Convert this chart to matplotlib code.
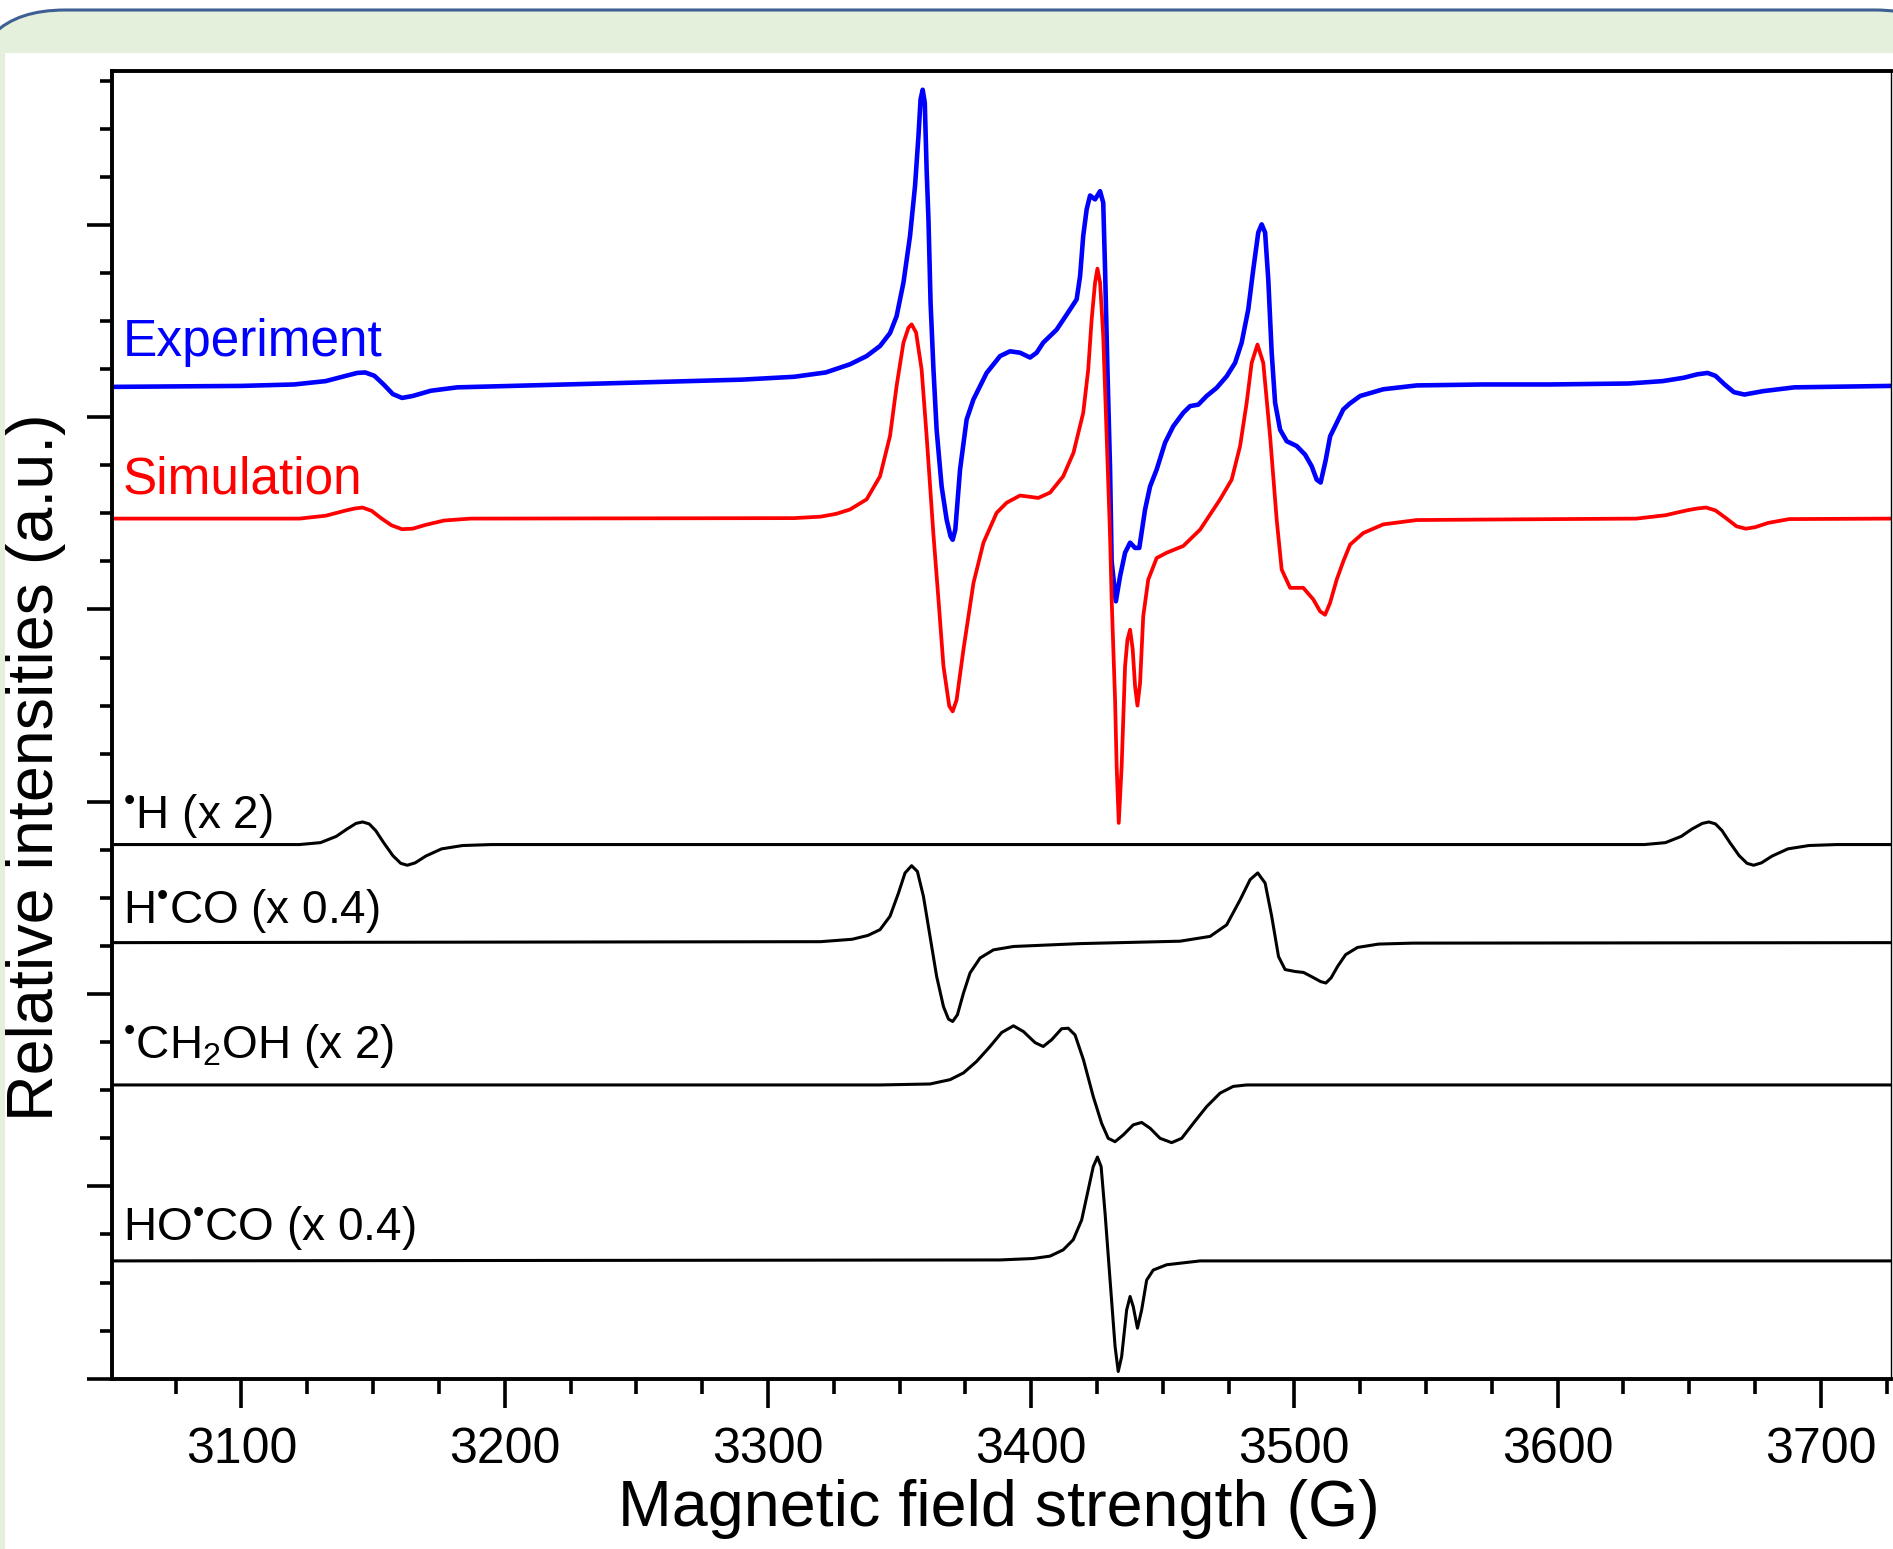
import matplotlib
matplotlib.use("Agg")
import matplotlib.pyplot as plt
from matplotlib.patches import FancyBboxPatch, Rectangle
from matplotlib.ticker import MultipleLocator

plt.rcParams['font.family'] = ['Liberation Sans', 'DejaVu Sans']
plt.rcParams['mathtext.fontset'] = 'custom'
plt.rcParams['mathtext.rm'] = 'Liberation Sans'
plt.rcParams['mathtext.it'] = 'Liberation Sans'

# magnetic field (G) / relative intensity
exp_field = [3051.8, 3100, 3120, 3132, 3139, 3144, 3147, 3150.5, 3154, 3157.5,
             3161, 3165, 3172, 3182, 3237, 3290, 3310, 3322, 3331.2, 3337.5,
             3342.6, 3346.4, 3348.9, 3351.5, 3354.0, 3355.9, 3357.2, 3358.0, 3358.8, 3359.6,
             3360.3, 3361.0, 3361.8, 3362.9, 3364.1, 3366.0, 3367.9, 3369.4, 3370.2, 3371.2,
             3373.0, 3375.5, 3378.1, 3383.1, 3388.2, 3392.0, 3395.8, 3399.6, 3402.1, 3404.6,
             3409.7, 3414.8, 3417.3, 3418.6, 3419.8, 3421.1, 3422.4, 3424.3, 3426.2, 3427.4,
             3428.1, 3429.0, 3430.0, 3430.6, 3432.2, 3433.8, 3435.7, 3437.6, 3439.5, 3441.1,
             3443.3, 3445.2, 3447.7, 3450.9, 3454.0, 3457.8, 3460.4, 3463.5, 3466.7, 3470.5,
             3474.3, 3477.5, 3480.0, 3482.5, 3484.4, 3486.3, 3487.6, 3488.9, 3490.1, 3491.4,
             3492.7, 3494.6, 3497.1, 3500.9, 3504.1, 3506.6, 3508.5, 3510.0, 3511.9, 3513.6,
             3516.1, 3518.6, 3521.0, 3525.0, 3533.8, 3546.5, 3571.8, 3597.2, 3627, 3640,
             3648, 3653, 3657, 3660, 3663.5, 3667, 3671, 3678, 3690, 3726.6]
exp_int = [20.63, 20.65, 20.68, 20.75, 20.85, 20.92, 20.93, 20.86, 20.68, 20.48,
           20.40, 20.44, 20.55, 20.62, 20.70, 20.78, 20.84, 20.93, 21.10, 21.27,
           21.48, 21.75, 22.10, 22.80, 23.77, 24.81, 25.85, 26.61, 26.81, 26.54,
           25.15, 24.11, 22.38, 20.99, 19.74, 18.56, 17.87, 17.52, 17.45, 17.66,
           18.91, 19.95, 20.37, 20.92, 21.27, 21.37, 21.34, 21.24, 21.34, 21.55,
           21.82, 22.24, 22.45, 22.93, 23.77, 24.32, 24.61, 24.53, 24.70, 24.46,
           23.07, 20.99, 18.91, 17.00, 16.17, 16.69, 17.18, 17.39, 17.28, 17.28,
           18.08, 18.56, 18.91, 19.47, 19.81, 20.09, 20.23, 20.26, 20.44, 20.61,
           20.85, 21.13, 21.55, 22.24, 23.07, 23.84, 24.01, 23.84, 22.87, 21.34,
           20.30, 19.74, 19.50, 19.40, 19.22, 18.98, 18.70, 18.64, 19.10, 19.60,
           19.88, 20.16, 20.28, 20.44, 20.58, 20.66, 20.68, 20.68, 20.70, 20.75,
           20.82, 20.89, 20.92, 20.86, 20.68, 20.52, 20.47, 20.54, 20.62, 20.65]

sim_field = [3051.8, 3122, 3132, 3139, 3143, 3146, 3149.5, 3153, 3157, 3161,
             3165, 3170, 3177, 3187, 3310, 3320, 3326, 3331.2, 3337.5, 3342.6,
             3346.4, 3348.9, 3351.5, 3353.4, 3354.6, 3356.3, 3358.4, 3360.3, 3362.9, 3364.8,
             3366.7, 3368.9, 3370.2, 3371.7, 3374.3, 3378.1, 3381.9, 3386.9, 3390.7, 3395.8,
             3402.7, 3407.2, 3412.2, 3416.1, 3419.8, 3421.7, 3423.0, 3424.3, 3425.2, 3426.2,
             3427.4, 3428.7, 3430.0, 3430.6, 3431.9, 3432.5, 3433.3, 3434.4, 3435.7, 3436.6,
             3437.6, 3438.6, 3439.5, 3440.4, 3441.4, 3442.6, 3444.5, 3447.7, 3451.5, 3457.8,
             3464.2, 3471.8, 3476.2, 3479.4, 3481.9, 3483.8, 3486.0, 3488.2, 3490.8, 3493.3,
             3495.2, 3498.4, 3503.4, 3507.2, 3509.8, 3511.7, 3513.6, 3516.1, 3518.6, 3521.2,
             3526.2, 3533.8, 3546.5, 3571.8, 3630, 3641, 3649, 3653, 3656.5, 3660,
             3664, 3668, 3671.5, 3675, 3680, 3688, 3726.6]
sim_int = [17.89, 17.89, 17.95, 18.05, 18.10, 18.12, 18.05, 17.90, 17.75, 17.67,
           17.68, 17.76, 17.85, 17.89, 17.90, 17.93, 17.99, 18.08, 18.29, 18.77,
           19.61, 20.65, 21.55, 21.86, 21.93, 21.76, 20.99, 19.61, 17.55, 16.21,
           14.82, 13.99, 13.88, 14.12, 15.17, 16.55, 17.39, 18.01, 18.22, 18.37,
           18.32, 18.43, 18.77, 19.26, 20.09, 20.99, 22.03, 22.80, 23.09, 22.80,
           21.69, 19.61, 17.52, 16.21, 14.12, 12.74, 11.56, 12.74, 14.82, 15.37,
           15.58, 15.17, 14.40, 14.00, 14.47, 15.86, 16.62, 17.07, 17.18, 17.32,
           17.66, 18.29, 18.70, 19.40, 20.30, 21.13, 21.51, 21.13, 19.60, 17.87,
           16.83, 16.45, 16.45, 16.21, 15.96, 15.89, 16.14, 16.62, 17.00, 17.35,
           17.59, 17.77, 17.86, 17.87, 17.89, 17.96, 18.06, 18.10, 18.12, 18.06,
           17.90, 17.73, 17.68, 17.71, 17.80, 17.88, 17.89]

h_field = [3051.8, 3122, 3130, 3136, 3140, 3143.5, 3146, 3148.5, 3151, 3154,
           3157.5, 3160.5, 3163, 3166, 3170, 3176, 3184, 3195, 3633, 3641,
           3647, 3651, 3655, 3657.5, 3660, 3662.5, 3665.5, 3669, 3672, 3674.5,
           3677.5, 3681.5, 3687.5, 3695.5, 3706, 3726.6]
h_int = [11.11, 11.11, 11.15, 11.28, 11.43, 11.55, 11.58, 11.54, 11.40, 11.15,
         10.88, 10.72, 10.68, 10.73, 10.87, 11.02, 11.09, 11.11, 11.11, 11.15,
         11.28, 11.43, 11.55, 11.58, 11.54, 11.40, 11.15, 10.88, 10.72, 10.68,
         10.73, 10.87, 11.02, 11.09, 11.11, 11.11]

hco_field = [3051.8, 3320, 3332, 3338, 3342.6, 3346.4, 3349.6, 3352.1, 3354.6, 3356.8,
             3359.1, 3361.6, 3364.1, 3366.7, 3368.6, 3370.2, 3372.0, 3374.3, 3376.8, 3380.6,
             3385.7, 3393.3, 3418.6, 3456.6, 3468.0, 3474.3, 3479.4, 3483.2, 3486.1, 3488.9,
             3491.4, 3494.0, 3496.5, 3500.3, 3503.5, 3507, 3510, 3512, 3514, 3516.5,
             3519.5, 3524, 3532, 3545, 3726.6]
hco_int = [9.07, 9.09, 9.14, 9.22, 9.34, 9.62, 10.10, 10.52, 10.67, 10.55,
           10.03, 9.20, 8.37, 7.74, 7.48, 7.43, 7.57, 8.02, 8.44, 8.75,
           8.92, 8.99, 9.05, 9.10, 9.20, 9.44, 9.96, 10.38, 10.52, 10.31,
           9.62, 8.78, 8.51, 8.47, 8.45, 8.35, 8.26, 8.23, 8.34, 8.58,
           8.82, 8.97, 9.04, 9.06, 9.07]

ch2oh_field = [3051.8, 3342.6, 3361.6, 3369.2, 3374.3, 3379.3, 3384.4, 3388.8, 3393.3, 3397.1,
               3401.5, 3404.6, 3407.8, 3411.6, 3414.1, 3416.7, 3419.9, 3423.6, 3426.8, 3429.3,
               3431.9, 3435.0, 3438.8, 3442.0, 3445.2, 3449.0, 3453.4, 3457.2, 3461.6, 3466.7,
               3471.8, 3476.8, 3481.9, 3726.6]
ch2oh_int = [6.11, 6.11, 6.13, 6.22, 6.36, 6.60, 6.91, 7.20, 7.34, 7.22,
             6.99, 6.91, 7.05, 7.28, 7.29, 7.15, 6.63, 5.87, 5.31, 5.00,
             4.93, 5.07, 5.28, 5.33, 5.21, 5.00, 4.91, 5.00, 5.31, 5.66,
             5.94, 6.08, 6.11, 6.11]

hoco_field = [3051.8, 3388.2, 3400.8, 3407.2, 3412.2, 3416.0, 3419.2, 3421.7, 3423.6, 3425.2,
              3426.6, 3428.1, 3430.0, 3431.9, 3433.1, 3434.4, 3436.3, 3437.6, 3438.8, 3440.4,
              3442.0, 3443.9, 3446.4, 3451.5, 3464.2, 3726.6]
hoco_int = [2.45, 2.47, 2.50, 2.55, 2.68, 2.89, 3.30, 3.93, 4.41, 4.61,
            4.41, 3.44, 2.05, 0.67, 0.15, 0.46, 1.43, 1.71, 1.50, 1.05,
            1.43, 2.05, 2.26, 2.37, 2.45, 2.45]

fig = plt.figure(figsize=(18.93, 15.49), dpi=100)

# rounded slide frame behind the plot
bg = fig.add_axes([0, 0, 1, 1], zorder=0)
bg.set_xlim(0, 1893)
bg.set_ylim(1549, 0)
bg.axis('off')
bg.add_patch(FancyBboxPatch((-30, 10), 2000, 1600, boxstyle="round,pad=0,rounding_size=95",
                            fc='#e4f0dc', ec='#3d5f91', lw=2.2))
bg.add_patch(Rectangle((5, 53), 1950, 1550, fc='white', ec='none'))

ax = fig.add_axes([112 / 1893, 1 - 1378.7 / 1549, 1779 / 1893, 1307.7 / 1549], zorder=1)
ax.set_facecolor('none')

ax.plot(exp_field, exp_int, color='#0000ff', lw=3.3, solid_joinstyle='round')
ax.plot(sim_field, sim_int, color='#ff0000', lw=2.7, solid_joinstyle='round')
for f, v in [(h_field, h_int), (hco_field, hco_int), (ch2oh_field, ch2oh_int), (hoco_field, hoco_int)]:
    ax.plot(f, v, color='black', lw=2.2, solid_joinstyle='round')

ax.set_xlim(3050.8, 3726.7)
ax.set_ylim(0, 27.2)

ax.xaxis.set_major_locator(MultipleLocator(100))
ax.xaxis.set_minor_locator(MultipleLocator(25))
ax.yaxis.set_major_locator(MultipleLocator(4))
ax.yaxis.set_minor_locator(MultipleLocator(1))
ax.set_yticklabels([])
ax.tick_params(axis='x', which='major', length=21, width=2.6, labelsize=36, pad=14)
ax.tick_params(axis='x', which='minor', length=11, width=2.6)
ax.tick_params(axis='y', which='major', length=18, width=2.6)
ax.tick_params(axis='y', which='minor', length=9, width=2.6)

for side in ['left', 'bottom', 'top']:
    ax.spines[side].set_linewidth(2.8)
ax.spines['right'].set_linewidth(1.0)

ax.set_xlabel('Magnetic field strength (G)', fontsize=46.5)
ax.set_ylabel('Relative intensities (a.u.)', fontsize=46.5)
ax.xaxis.set_label_coords(0.4983, -0.0996)
ax.xaxis.label.set_va('center')
ax.yaxis.set_label_coords(-0.0427, 0.468)
ax.yaxis.label.set_va('center')

dot = '$^{\u2022}$'
ax.text(3055.0, 21.28, 'Experiment', color='#0000ff', fontsize=37, va='baseline')
ax.text(3055.0, 18.42, 'Simulation', color='#ff0000', fontsize=37, va='baseline')
ax.text(3055.0, 11.46, dot + 'H (x 2)', fontsize=33, va='baseline')
ax.text(3055.0, 9.47, 'H' + dot + 'CO (x 0.4)', fontsize=33, va='baseline')
ax.text(3055.0, 6.68, dot + 'CH$_{2}$OH (x 2)', fontsize=33, va='baseline')
ax.text(3055.0, 2.89, 'HO' + dot + 'CO (x 0.4)', fontsize=33, va='baseline')

fig.savefig('out.png', dpi=100)
